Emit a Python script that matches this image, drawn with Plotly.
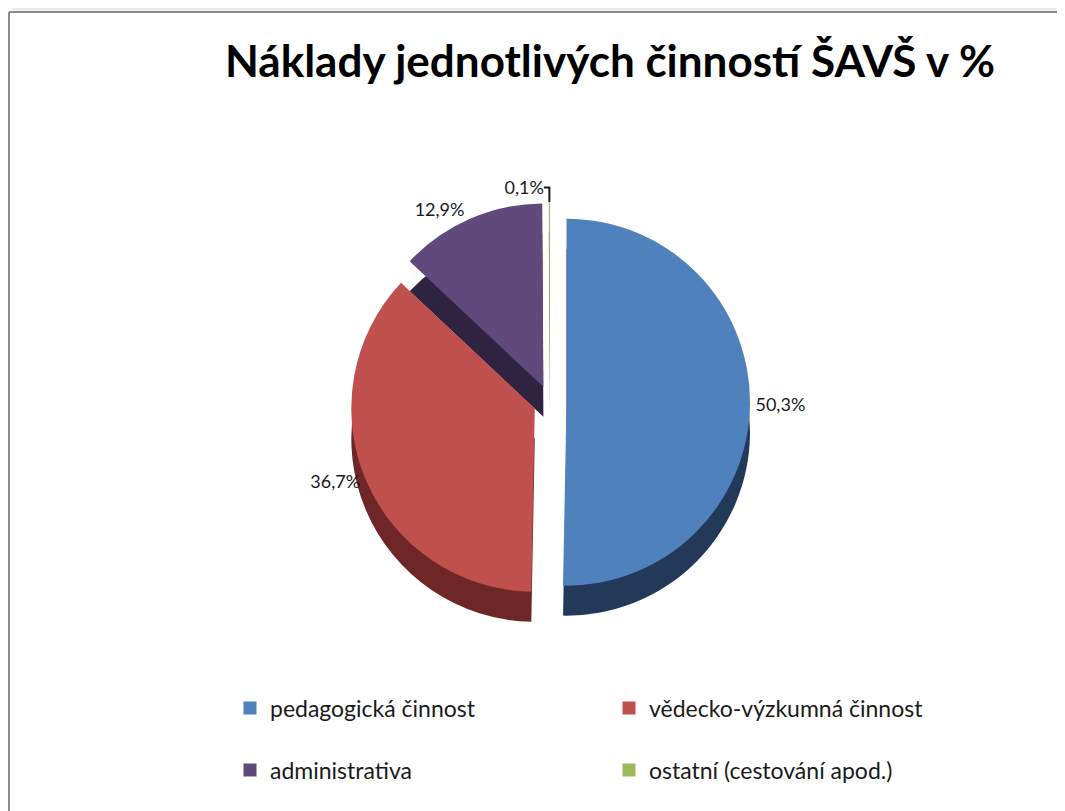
import plotly.graph_objects as go

categories = ["pedagogická činnost", "vědecko-výzkumná činnost", "administrativa", "ostatní (cestování apod.)"]
values = [50.3, 36.7, 12.9, 0.1]
top_colors = ["#4F81BD", "#C0504D", "#604A7B", "#9BBB59"]
side_colors = ["#22395A", "#6E2726", "#2E2340", "#5B7330"]
pulls = [0.09, 0.09, 0.09, 0.09]

OFF = 8                      # page body margin
SW, SH = 1065, 811           # screen size
W, H = SW - OFF, SH - OFF    # figure size
FONT = "Lato"

def px(x):
    return (x - OFF) / W

def py(y):
    return 1 - (y - OFF) / H

def dom_y(top_px, bottom_px):
    return [py(bottom_px), py(top_px)]

def dom_x(left_px, right_px):
    return [px(left_px), px(right_px)]

CX = 550
HALF = 260

fig = go.Figure()

# depth (side) layer
fig.add_trace(go.Pie(
    labels=categories, values=values, sort=False, direction="clockwise", rotation=0,
    pull=pulls, marker=dict(colors=side_colors, line=dict(width=0)),
    textinfo="none", hoverinfo="skip", showlegend=False,
    domain=dict(x=dom_x(CX - HALF, CX + HALF), y=dom_y(232, 632)),
))

# top layer
fig.add_trace(go.Pie(
    labels=categories, values=values, sort=False, direction="clockwise", rotation=0,
    pull=pulls, marker=dict(colors=top_colors, line=dict(width=0)),
    textinfo="percent", texttemplate="%{percent:.1%}", textposition="outside",
    outsidetextfont=dict(family=FONT, size=18, color="#1a1a1a"),
    showlegend=False,
    domain=dict(x=dom_x(CX - HALF, CX + HALF), y=dom_y(202, 602)),
))

# legend entries (two rows via two legends)
for i, (name, col) in enumerate(zip(categories, top_colors)):
    fig.add_trace(go.Scatter(
        x=[None], y=[None], mode="markers", name=name,
        marker=dict(symbol="square", size=13, color=col),
        legend="legend" if i < 2 else "legend2",
    ))

legend_common = dict(
    orientation="h", xanchor="left", yanchor="middle", x=px(230),
    font=dict(family=FONT, size=23, color="#1a1a1a"),
    entrywidth=334, entrywidthmode="pixels", itemwidth=30,
    bgcolor="rgba(0,0,0,0)", traceorder="normal",
)

# frame decorations (shadow and border)
shapes = []
for k in range(12):
    v = 200 + k * 4
    shapes.append(dict(type="rect", xref="paper", yref="paper",
                       x0=px(12), x1=1, y0=py(1 + k), y1=py(k),
                       line=dict(width=0), fillcolor=f"rgb({v},{v},{v})"))
shapes.append(dict(type="line", xref="paper", yref="paper", x0=px(9), x1=1, y0=py(12), y1=py(12),
                   line=dict(color="#8a8a8a", width=2)))
shapes.append(dict(type="line", xref="paper", yref="paper", x0=px(9), x1=px(9), y0=0, y1=py(12),
                   line=dict(color="#8a8a8a", width=2)))

fig.update_layout(
    width=W, height=H,
    margin=dict(l=0, r=0, t=0, b=0, autoexpand=False),
    paper_bgcolor="white", plot_bgcolor="white",
    separators=", ",
    title=dict(text="<b>Náklady jednotlivých činností ŠAVŠ v %</b>",
               x=px(610), xanchor="center", y=py(62), yanchor="middle",
               font=dict(family=FONT, size=44, color="black")),
    legend=dict(y=py(708), **legend_common),
    legend2=dict(y=py(770), **legend_common),
    xaxis=dict(visible=False), yaxis=dict(visible=False),
    shapes=shapes,
)

fig.write_html("out.html")
